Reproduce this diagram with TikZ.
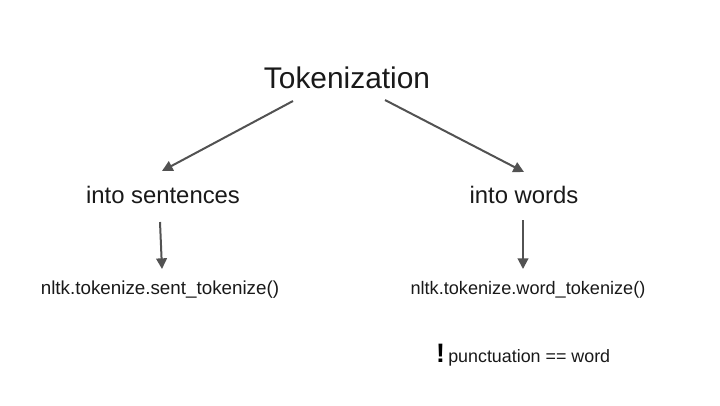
\documentclass[tikz,border=0pt]{standalone}
\usepackage{fontspec}
\setmainfont{Liberation Sans}
\usetikzlibrary{arrows.meta}
\begin{document}
\begin{tikzpicture}[x={(0.75pt,0)},y={(0,-0.75pt)},
  lbl/.style={inner sep=0pt,text=black!90,font=\fontsize{14.1pt}{16pt}\selectfont},
  mid/.style={inner sep=0pt,text=black!90,font=\fontsize{17.9pt}{20pt}\selectfont},
  arr/.style={draw=black!68,line width=1.5pt,-{Triangle[length=8pt,width=8pt]}}]
\useasboundingbox (0,0) rectangle (720,405);
\node[inner sep=0pt,text=black!90,font=\fontsize{22.4pt}{24pt}\selectfont] (tok) at (347,78) {Tokenization};
\node[mid] (sen) at (163,195) {into sentences};
\node[mid] (wor) at (524,195) {into words};
\node[lbl] (st) at (160,290) {nltk.tokenize.sent\_tokenize()};
\node[lbl,font=\fontsize{13.6pt}{16pt}\selectfont] (wt) at (528,290) {nltk.tokenize.word\_tokenize()};
\node[lbl,anchor=west,font=\fontsize{13.4pt}{16pt}\selectfont] (pw) at (448,358) {punctuation == word};
\node[inner sep=0pt,anchor=base east,font=\bfseries\fontsize{20pt}{22pt}\selectfont] (ex) at ([xshift=-2pt]pw.base west) {!};
\coordinate (a1) at (293,101); \coordinate (a2) at (162,171);
\coordinate (b1) at (385,100); \coordinate (b2) at (524,172);
\coordinate (c1) at (160,222); \coordinate (c2) at (162,269);
\coordinate (d1) at (523,220); \coordinate (d2) at (523,269);
\draw[arr] (a1) -- (a2);
\draw[arr] (b1) -- (b2);
\draw[arr] (c1) -- (c2);
\draw[arr] (d1) -- (d2);
\end{tikzpicture}
\end{document}
